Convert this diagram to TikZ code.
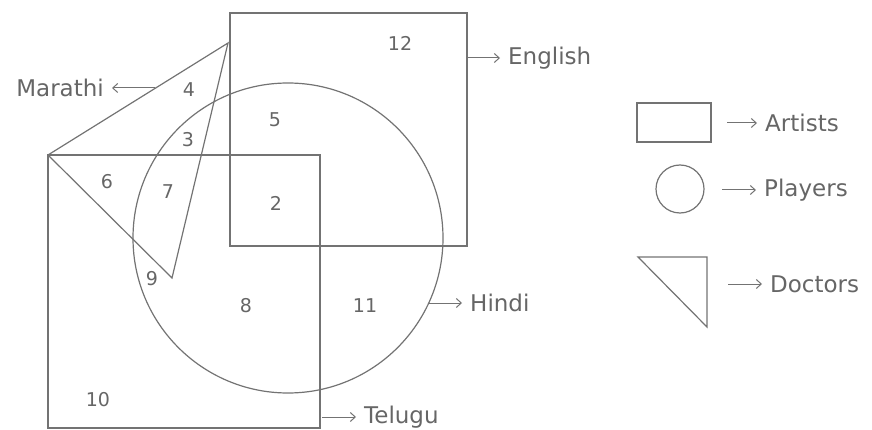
\documentclass[tikz,border=0pt]{standalone}
\usepackage{fontspec}
\setmainfont{DejaVu Sans}
\usetikzlibrary{positioning,arrows.meta}

\tikzset{
  region/.style={draw=black!55, line width=1.2pt},
  num/.style={text=black!60, font=\fontsize{19}{22}\selectfont, inner sep=0pt},
  lbl/.style={text=black!60, font=\fontsize{23}{26}\selectfont, inner sep=0pt, anchor=west},
  pointer/.style={-{Straight Barb[length=5pt,width=9pt]}, draw=black!55, line width=1pt, shorten >=8pt},
}

\begin{document}
\begin{tikzpicture}[x=1pt, y=-1pt]
\useasboundingbox (0,0) rectangle (872,430);
% the four sets
\draw[region] (230,13) rectangle (467,246);
\draw[region] (48,155) rectangle (320,428);
\draw[region] (288,238) circle[radius=155pt];
\draw[region] (48,155) -- (228,43) -- (172,278) -- cycle;
% region numbers
\node[num] (n12) at (400,43) {12};
\node[num] (n4) at (189,90) {4};
\node[num] (n5) at (275,120) {5};
\node[num] (n3) at (188,140) {3};
\node[num] (n6) at (107,182) {6};
\node[num] (n7) at (168,192) {7};
\node[num] (n2) at (276,203) {2};
\node[num] (n9) at (152,279) {9};
\node[num] (n8) at (246,306) {8};
\node[num] (n11) at (365,306) {11};
\node[num] (n10) at (98,400) {10};
% set names
\node[lbl] (english) at (508,58) {English};
\node[lbl] (hindi) at (470,303) {Hindi};
\node[lbl] (telugu) at (364,417) {Telugu};
\node[lbl, anchor=east] (marathi) at (104,88) {Marathi};
\coordinate (englishfrom) at (467,58);
\coordinate (hindifrom) at (428,303);
\coordinate (telugufrom) at (322,417);
\coordinate (marathifrom) at (155,88);
\draw[pointer] (englishfrom) -- (english);
\draw[pointer] (hindifrom) -- (hindi);
\draw[pointer] (telugufrom) -- (telugu);
\draw[pointer] (marathifrom) -- (marathi);
% legend
\draw[region] (637,103) rectangle (711,142);
\draw[region] (680,189) circle[radius=24pt];
\draw[region] (638,257) -- (707,257) -- (707,327) -- cycle;
\node[lbl] (artists) at (765,123) {Artists};
\node[lbl] (players) at (764,190) {Players};
\node[lbl] (doctors) at (770,284) {Doctors};
\coordinate (artistsfrom) at (727,123);
\coordinate (playersfrom) at (722,190);
\coordinate (doctorsfrom) at (728,284);
\draw[pointer] (artistsfrom) -- (artists);
\draw[pointer] (playersfrom) -- (players);
\draw[pointer] (doctorsfrom) -- (doctors);
\end{tikzpicture}
\end{document}
